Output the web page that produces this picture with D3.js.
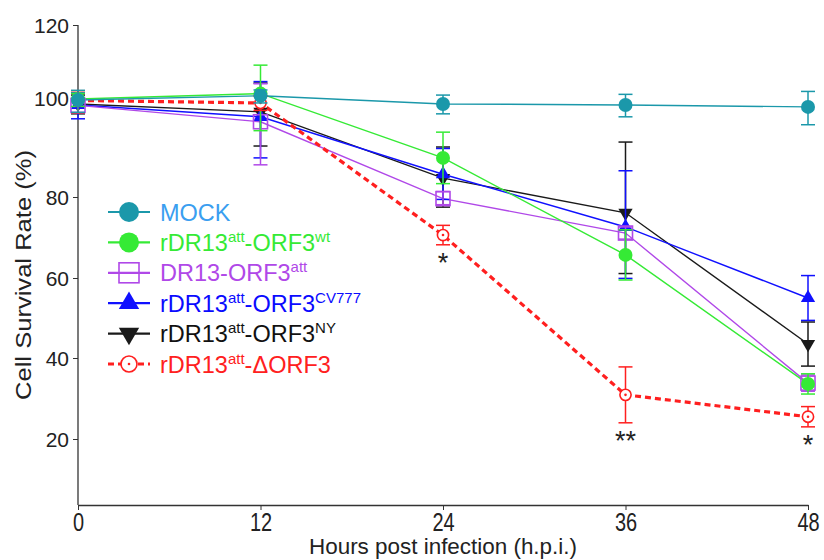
<!DOCTYPE html>
<html>
<head>
<meta charset="utf-8">
<script src="https://cdn.jsdelivr.net/npm/d3@7"></script>
<style>
  body { margin: 0; background: #fff; }
  svg { font-family: "Liberation Sans", Arial, sans-serif; }
</style>
</head>
<body>
<svg id="chart" width="824" height="560"></svg>
<script>
// hours post infection
const hours = [0, 12, 24, 36, 48];
const yTicks = [20, 40, 60, 80, 100, 120];
const yFloor = 3.7;   // where the x axis crosses the y axis

// survival rate (%) and error bar half-length for each group
const mock      = [99.6, 100.6, 98.8, 98.6, 98.2];
const mockErr   = [2.5, 1.6, 2.0, 2.4, 3.6];
const orf3wt    = [99.8, 101.2, 87.9, 65.7, 33.6];
const orf3wtErr = [1.5, 7.8, 5.2, 6.2, 2.5];
const orf3att    = [98.5, 95.2, 79.6, 71.1, 33.8];
const orf3attErr = [1.5, 8.7, 1.5, 1.5, 2.0];
const cv777    = [98.6, 96.2, 84.6, 72.6, 55.0];
const cv777Err = [2.8, 8.3, 5.2, 12.7, 5.6];
const ny    = [98.8, 97.2, 83.8, 76.1, 43.5];
const nyErr = [2.0, 6.9, 6.3, 15.0, 5.5];
const dorf3    = [99.5, 99.0, 70.6, 30.9, 25.5];
const dorf3Err = [2.5, 1.5, 2.4, 6.9, 2.5];

// significance marks (placed under the deltaORF3 error bar): [index into hours, text]
const stars = [[2, "*"], [3, "**"], [4, "*"]];

const series = [
  {name: [["rDR13", ""], ["att", "sup"], ["-ORF3", ""], ["NY", "sup"]], vals: ny, err: nyErr, color: "#1a1a1a", text: "#111", mark: "down"},
  {name: [["rDR13", ""], ["att", "sup"], ["-ORF3", ""], ["CV777", "sup"]], vals: cv777, err: cv777Err, color: "#1010ff", text: "#0a0aff", mark: "up"},
  {name: [["DR13-ORF3", ""], ["att", "sup"]], vals: orf3att, err: orf3attErr, color: "#b048e8", text: "#b048e8", mark: "square"},
  {name: [["rDR13", ""], ["att", "sup"], ["-ORF3", ""], ["wt", "sup"]], vals: orf3wt, err: orf3wtErr, color: "#35ea35", text: "#35ea35", mark: "dot"},
  {name: [["rDR13", ""], ["att", "sup"], ["-\u0394ORF3", ""]], vals: dorf3, err: dorf3Err, color: "#ff1f1f", text: "#ff2020", mark: "ring", dash: true},
  {name: [["MOCK", ""]], vals: mock, err: mockErr, color: "#1b98aa", text: "#3a9ef0", mark: "dot"}
];
// legend order as in the figure
const legendOrder = [5, 3, 2, 1, 0, 4];

const svg = d3.select("#chart");

const x = d3.scaleLinear().domain([0, 48]).range([78, 808]);
// the printed axis is not evenly spaced, so map each tick to where it sits
const y = d3.scaleLinear().domain(yTicks).range([439, 358, 278, 197, 98, 25]);

//AXES//////////////////////////////////////////////////////
const yAxis = svg.append("g").attr("transform", `translate(${x(0)},0)`)
  .call(d3.axisLeft(y).tickValues(yTicks).tickSize(5).tickSizeOuter(0));
yAxis.select(".domain").remove();
yAxis.selectAll("text").attr("font-size", 21).attr("fill", "#222").attr("dy", "0.35em").attr("x", -9);
yAxis.selectAll("line").attr("stroke", "#333");
svg.append("line")
  .attr("x1", x(0)).attr("x2", x(0))
  .attr("y1", y(120)).attr("y2", y(yFloor))
  .attr("stroke", "#333").attr("stroke-width", 1.3);

const xAxis = svg.append("g").attr("transform", `translate(0,${y(yFloor)})`)
  .call(d3.axisBottom(x).tickValues(hours).tickSize(5).tickSizeOuter(0));
xAxis.select(".domain").attr("stroke", "#333").attr("stroke-width", 1.3);
xAxis.selectAll("line").attr("stroke", "#333");
// tick labels in the figure are tall and narrow
xAxis.selectAll("text").attr("font-size", 21).attr("fill", "#222")
  .attr("y", 6).attr("transform", "scale(0.95,1.22)");

svg.append("text")
  .attr("x", x(24)).attr("y", 554)
  .attr("text-anchor", "middle").attr("font-size", 22).attr("fill", "#222")
  .attr("textLength", 268).attr("lengthAdjust", "spacingAndGlyphs")
  .text("Hours post infection (h.p.i.)");

svg.append("text")
  .attr("transform", "translate(31,275) rotate(-90)")
  .attr("text-anchor", "middle").attr("font-size", 22).attr("fill", "#222")
  .attr("textLength", 250).attr("lengthAdjust", "spacingAndGlyphs")
  .text("Cell Survival Rate (%)");

//MARKERS//////////////////////////////////////////////////////
function drawMark(g, kind, color, s) {
  if (kind === "dot") {
    g.append("circle").attr("r", s * 0.5).attr("fill", color);
  } else if (kind === "square") {
    g.append("rect").attr("x", -s / 2).attr("y", -s / 2).attr("width", s).attr("height", s)
      .attr("fill", "none").attr("stroke", color).attr("stroke-width", 1.6);
  } else if (kind === "up" || kind === "down") {
    g.append("path")
      .attr("d", d3.symbol().type(d3.symbolTriangle).size(s * s * 0.45)())
      .attr("transform", kind === "down" ? "rotate(180)" : null)
      .attr("fill", color);
  } else if (kind === "ring") {
    g.append("circle").attr("r", s * 0.4).attr("fill", "#fff").attr("stroke", color).attr("stroke-width", 1.6);
    g.append("circle").attr("r", 1.3).attr("fill", color);
  }
}

const line = d3.line().x((d, i) => x(hours[i])).y(d => y(d));

// lines
series.forEach(s => {
  svg.append("path").datum(s.vals)
    .attr("d", line)
    .attr("fill", "none")
    .attr("stroke", s.color)
    .attr("stroke-width", s.dash ? 3.2 : 1.4)
    .attr("stroke-dasharray", s.dash ? "6,4" : null);
});

// error bars and points
series.forEach(s => {
  const g = svg.append("g");
  s.vals.forEach((v, i) => {
    const cx = x(hours[i]);
    const top = y(v + s.err[i]), bot = y(v - s.err[i]);
    g.append("line").attr("x1", cx).attr("x2", cx).attr("y1", top).attr("y2", bot)
      .attr("stroke", s.color).attr("stroke-width", 1.5);
    [top, bot].forEach(yy => {
      g.append("line").attr("x1", cx - 7).attr("x2", cx + 7).attr("y1", yy).attr("y2", yy)
        .attr("stroke", s.color).attr("stroke-width", 1.5);
    });
  });
  s.vals.forEach((v, i) => {
    const m = g.append("g").attr("transform", `translate(${x(hours[i])},${y(v)})`);
    drawMark(m, s.mark, s.color, 14);
  });
});

// significance stars
svg.selectAll(".star").data(stars).enter().append("text")
  .attr("class", "star")
  .attr("x", d => x(hours[d[0]]))
  .attr("y", d => y(dorf3[d[0]] - dorf3Err[d[0]]) + 27)
  .attr("text-anchor", "middle").attr("font-size", 27).attr("fill", "#222")
  .text(d => d[1]);

//LEGEND//////////////////////////////////////////////////////
legendOrder.forEach((k, row) => {
  const s = series[k];
  const ly = 212 + row * 30.4;
  const g = svg.append("g");
  g.append("line").attr("x1", 108).attr("x2", 150).attr("y1", ly).attr("y2", ly)
    .attr("stroke", s.color).attr("stroke-width", s.dash ? 3.2 : 2.2)
    .attr("stroke-dasharray", s.dash ? "6,4" : null);
  const m = g.append("g").attr("transform", `translate(129,${ly})`);
  drawMark(m, s.mark, s.color, 20);
  const t = g.append("text").attr("x", 160).attr("y", ly + 8.5)
    .attr("font-size", 23.5).attr("fill", s.text);
  s.name.forEach(p => {
    if (p[1] === "sup") {
      t.append("tspan").attr("font-size", 15).attr("dy", -9).text(p[0]);
    } else {
      const ts = t.append("tspan").text(p[0]);
      if (t.selectAll("tspan").size() > 1) ts.attr("dy", 9);
    }
  });
});
</script>
</body>
</html>
